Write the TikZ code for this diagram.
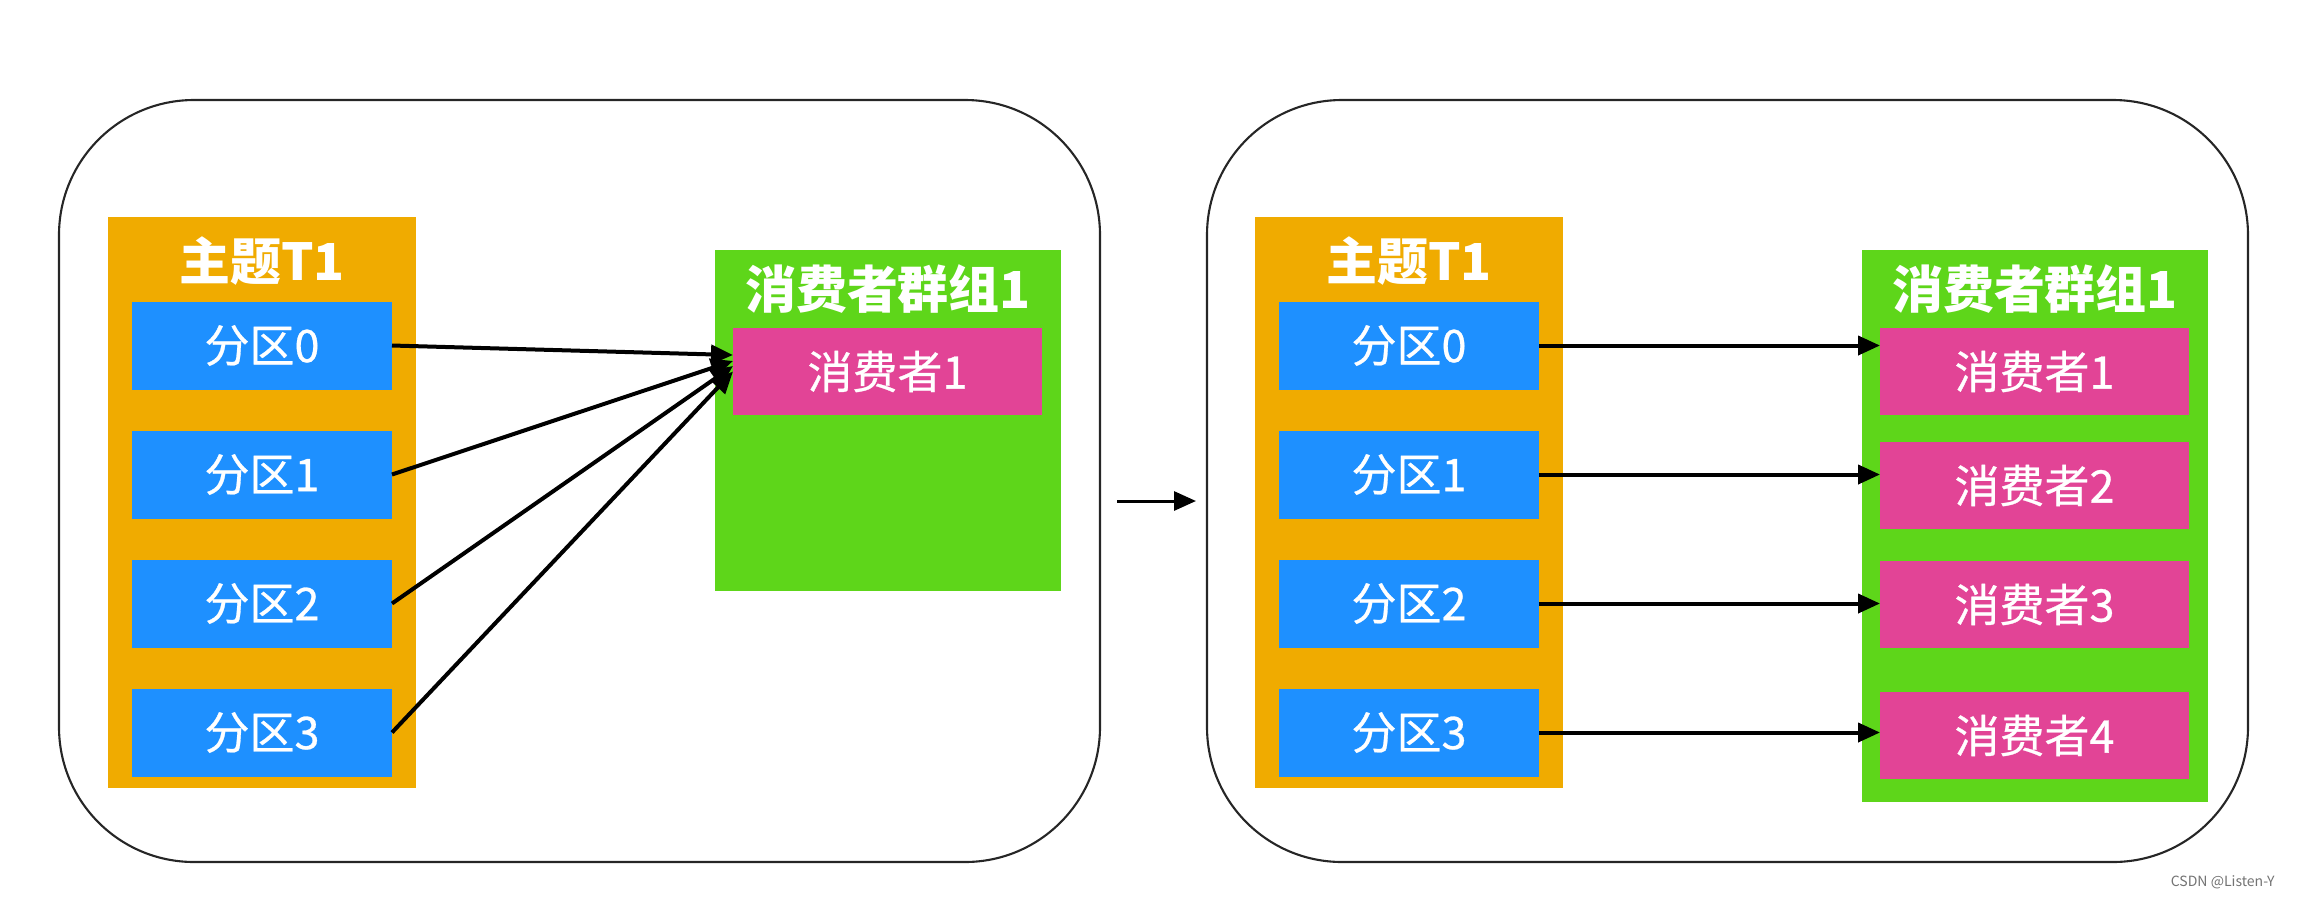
\documentclass[tikz,border=0pt]{standalone}
\usepackage{fontspec}
\setmainfont{Noto Sans CJK SC}
\newfontfamily\labelfont[FakeBold=0.6]{Noto Sans CJK SC}
\usetikzlibrary{arrows.meta,positioning}
\definecolor{topicorange}{RGB}{240,171,0}
\definecolor{partblue}{RGB}{30,144,255}
\definecolor{groupgreen}{RGB}{94,214,26}
\definecolor{consumerpink}{RGB}{226,68,150}
\tikzset{
	panel/.style={draw=black!85,line width=0.6pt,rounded corners=13.5mm,minimum width=104.1mm,minimum height=76.2mm,inner sep=0,outer sep=0},
	topic/.style={fill=topicorange,minimum width=30.8mm,minimum height=57.1mm,inner sep=0,outer sep=0},
	part/.style={fill=partblue,text=white,minimum width=26mm,minimum height=8.8mm,inner sep=0,outer sep=0,font=\labelfont\fontsize{12.8}{14}\selectfont},
	group/.style={fill=groupgreen,minimum width=34.6mm,inner sep=0,outer sep=0},
	consumer/.style={fill=consumerpink,text=white,minimum width=30.9mm,minimum height=8.7mm,inner sep=0,outer sep=0,font=\labelfont\fontsize{12.8}{14}\selectfont},
	boxtitle/.style={text=white,inner sep=0,font=\bfseries\fontsize{14.5}{16}\selectfont},
	link/.style={line width=0.4mm,-{Triangle[length=2.2mm,width=1.9mm]}},
}
\begin{document}
\begin{tikzpicture}[x=0.1mm,y=-0.1mm]
	\useasboundingbox (0,0) rectangle (2298,896);
	% left: one consumer
	\node[panel] (frameL) at (579.5,481) {};
	\node[topic] (topicL) at (262,502.5) {};
	\node[boxtitle] (ttitleL) at (262,261) {主题T1};
	\node[part] (pL0) at (262,345.5) {分区0};
	\node[part,below=4.1mm of pL0] (pL1) {分区1};
	\node[part,below=4.1mm of pL1] (pL2) {分区2};
	\node[part,below=4.1mm of pL2] (pL3) {分区3};
	\node[group,minimum height=34.1mm] (groupL) at (888,420.5) {};
	\node[boxtitle] (gtitleL) at (888,289) {消费者群组1};
	\node[consumer] (cL1) at (887.5,371.5) {消费者1};
	\foreach \i/\s in {0/1.65,1/1.05,2/0.55,3/0}
		\draw[link] (pL\i.east) -- ([yshift=\s mm]cL1.west);

	% right: four consumers
	\node[panel] (frameR) at (1727.5,481) {};
	\node[topic] (topicR) at (1409,502.5) {};
	\node[boxtitle] (ttitleR) at (1409,261) {主题T1};
	\node[part] (pR0) at (1409,345.5) {分区0};
	\node[part,below=4.1mm of pR0] (pR1) {分区1};
	\node[part,below=4.1mm of pR1] (pR2) {分区2};
	\node[part,below=4.1mm of pR2] (pR3) {分区3};
	\node[group,minimum height=55.2mm] (groupR) at (2035,526) {};
	\node[boxtitle] (gtitleR) at (2035,289) {消费者群组1};
	\node[consumer] (cR1) at (2034.5,371.5) {消费者1};
	\node[consumer,below=2.7mm of cR1] (cR2) {消费者2};
	\node[consumer,below=3.2mm of cR2] (cR3) {消费者3};
	\node[consumer,below=4.4mm of cR3] (cR4) {消费者4};
	\foreach \i/\j in {0/1,1/2,2/3,3/4}
		\draw[link] (pR\i.east) -- (pR\i.east -| cR\j.west);

	\draw[link,line width=0.3mm,shorten <=1.7mm,shorten >=1.1mm] ([yshift=-2mm]frameL.east) -- ([yshift=-2mm]frameR.west);
	\node[text=black!55,font=\fontsize{4}{5}\selectfont,anchor=east] (mark) at (2287,882) {CSDN @Listen-Y};
\end{tikzpicture}
\end{document}
